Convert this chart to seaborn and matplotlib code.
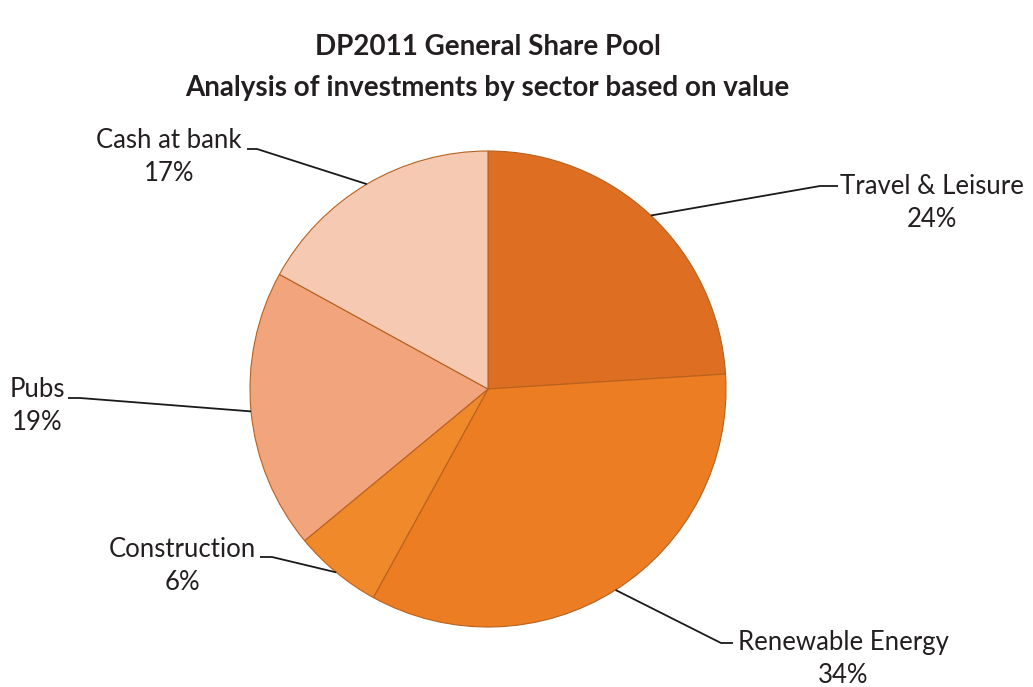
"""
DP2011 General Share Pool - sector split pie chart.
"""

import numpy as np
import matplotlib
matplotlib.use('Agg')
import matplotlib.pyplot as plt
import seaborn as sns

# Data
sectors = ['Travel & Leisure', 'Renewable Energy', 'Construction', 'Pubs', 'Cash at bank']
shares = [24, 34, 6, 19, 17]
colors = ['#DE6E22', '#EC7D22', '#F0892A', '#F2A47C', '#F6CAB2']
title_lines = ['DP2011 General Share Pool', 'Analysis of investments by sector based on value']

# label layout (pixel coords, y from top)
label_pos = [(932, 203), (843, 659), (182, 566), (37, 406), (169, 157)]
label_elbow = [((838, 186), (820, 186)), ((733, 643), (721, 643)), ((260, 557), (272, 557)),
               ((68, 398), (80, 398)), ((247, 149), (257, 149))]

W, H = 1033, 687
CENTER = (488, 389)
RADIUS = 238

sns.set_theme(style='white')
plt.rcParams['font.family'] = ['Lato', 'DejaVu Sans']

fig = plt.figure(figsize=(W / 100, H / 100), dpi=100)
ax = fig.add_axes([0, 0, 1, 1])

wedges, _ = ax.pie(
    shares,
    colors=colors,
    startangle=90,
    counterclock=False,
    radius=RADIUS,
    center=(CENTER[0], H - CENTER[1]),
    wedgeprops=dict(edgecolor='#B8611F', linewidth=0.8),
    frame=True,
)
ax.set_xlim(0, W)
ax.set_ylim(0, H)
ax.set_aspect('auto')
ax.axis('off')

# Labels with leader lines
for w, name, pct, (tx, ty), (p_end, p_elbow) in zip(wedges, sectors, shares, label_pos, label_elbow):
    mid = np.deg2rad((w.theta1 + w.theta2) / 2)
    ax_x = CENTER[0] + RADIUS * np.cos(mid)
    ax_y = (H - CENTER[1]) + RADIUS * np.sin(mid)
    ax.plot([ax_x, p_elbow[0], p_end[0]], [ax_y, H - p_elbow[1], H - p_end[1]],
            color='#1a1a1a', lw=1.3, solid_capstyle='butt')
    ax.text(tx, H - ty, f'{name}\n{pct}%', ha='center', va='center',
            multialignment='center', fontsize=18.5, color='#231f20', linespacing=1.38)

# Title
ax.text(W / 2 - 29, H - 47, title_lines[0], ha='center', va='center',
        fontsize=20, fontweight='bold', color='#231f20')
ax.text(W / 2 - 29, H - 88, title_lines[1], ha='center', va='center',
        fontsize=20, fontweight='bold', color='#231f20')

fig.savefig('out.png', dpi=100, facecolor='white')
plt.close(fig)
